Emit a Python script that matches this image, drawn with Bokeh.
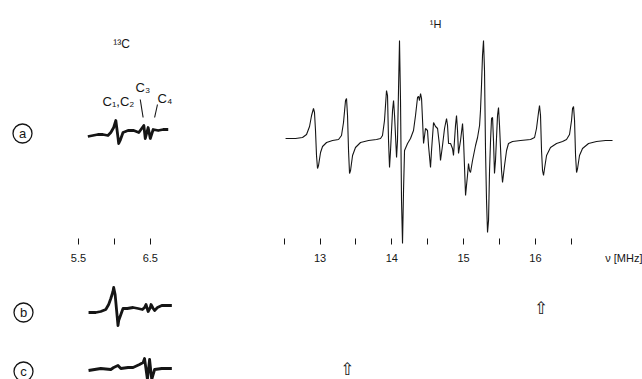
import numpy as np
from bokeh.plotting import figure
from bokeh.layouts import column
from bokeh.models import Range1d, FixedTicker, Label, LinearAxis
from bokeh.core.properties import value
from bokeh.embed import file_html
from bokeh.resources import INLINE

# ---------------- data ----------------
# 1H ENDOR spectrum, trace (a): frequency [MHz] and derivative amplitude (arb. units)
h_freq = [12.520, 12.659, 12.756, 12.812, 12.854, 12.882, 12.909, 12.923, 12.937, 12.951,
          12.965, 12.979, 13.007, 13.035, 13.091, 13.174, 13.258, 13.299, 13.327, 13.355,
          13.369, 13.383, 13.397, 13.411, 13.425, 13.453, 13.494, 13.564, 13.676, 13.787,
          13.843, 13.870, 13.898, 13.926, 13.940, 13.954, 13.968, 13.982, 14.010, 14.024,
          14.038, 14.066, 14.079, 14.093, 14.107, 14.121, 14.135, 14.149, 14.163, 14.177,
          14.219, 14.260, 14.302, 14.330, 14.358, 14.372, 14.386, 14.400, 14.414, 14.428,
          14.442, 14.469, 14.497, 14.511, 14.539, 14.553, 14.581, 14.609, 14.637, 14.664,
          14.678, 14.706, 14.734, 14.762, 14.776, 14.790, 14.818, 14.845, 14.859, 14.887,
          14.901, 14.915, 14.929, 14.957, 14.985, 14.999, 15.027, 15.040, 15.054, 15.068,
          15.082, 15.096, 15.124, 15.166, 15.194, 15.222, 15.235, 15.249, 15.263, 15.277,
          15.291, 15.305, 15.319, 15.333, 15.347, 15.361, 15.375, 15.389, 15.403, 15.416,
          15.430, 15.444, 15.472, 15.486, 15.500, 15.528, 15.542, 15.570, 15.598, 15.625,
          15.681, 15.793, 15.932, 15.988, 16.015, 16.043, 16.057, 16.071, 16.085, 16.099,
          16.113, 16.127, 16.155, 16.210, 16.294, 16.378, 16.433, 16.475, 16.503, 16.517,
          16.531, 16.545, 16.559, 16.573, 16.587, 16.614, 16.656, 16.740, 16.851, 16.977,
          17.074]
h_amp = [0, 0, 1, 4, 12, 23, 30, 26, 8, -17,
         -30, -27, -14, -8, -4, -2, -1, 3, 16, 38,
         40, 23, -12, -35, -32, -17, -9, -4, -2, -1,
         0, 3, 18, 48, 43, -2, -29, -12, 28, 38,
         23, -19, -2, 48, 98, 38, -62, -105, -52, -12,
         -5, 0, 8, 23, 41, 42, 38, 45, 40, 18,
         -5, 10, 8, -7, -29, -12, 16, 12, 10, -7,
         -22, -7, 10, 20, 13, -5, -5, -10, -17, 13,
         23, 8, -15, -2, 15, -2, -57, -47, -37, -25,
         -32, -34, -22, -7, 1, 13, 28, 53, 83, 98,
         68, -12, -62, -94, -82, -32, -2, 20, 21, -2,
         -35, -22, 23, 31, 13, -32, -44, -27, -12, -5,
         -3, -2, -1, 1, 10, 26, 33, 23, -12, -32,
         -37, -30, -17, -9, -5, -3, -1, 4, 18, 30,
         32, 18, -17, -34, -30, -17, -10, -5, -3, -2,
         -2]

# 13C ENDOR spectra (a), (b), (c): frequency [MHz], amplitude (arb. units)
c13a_freq = [5.63, 5.70, 5.77, 5.84, 5.91, 5.95, 5.99, 6.02, 6.05, 6.06, 6.08, 6.12,
             6.19, 6.27, 6.34, 6.39, 6.41, 6.43, 6.47, 6.50, 6.54, 6.61, 6.68, 6.75]
c13a_amp = [-3, -2, -1, -1, -2, 1, 6, 13, -4, -10, -7, 1,
            3, 3, 1, 6, 8, -5, 6, -5, 4, 3, 4, 4]

c13b_freq = [5.64, 5.74, 5.81, 5.88, 5.92, 5.95, 5.98, 5.99, 6.01, 6.04, 6.05, 6.06,
             6.09, 6.12, 6.18, 6.26, 6.33, 6.39, 6.42, 6.44, 6.47, 6.50, 6.51, 6.54,
             6.56, 6.60, 6.66, 6.73, 6.80]
c13b_amp = [-3, -3, -2, 0, 5, 11, 18, 22, 15, -8, -16, -11,
            -5, 1, 1, 2, 1, 0, 2, 5, -2, 2, 5, 1,
            -1, 2, 4, 4, 4]

c13c_freq = [5.64, 5.81, 5.95, 5.99, 6.05, 6.09, 6.19, 6.26, 6.35, 6.40, 6.42, 6.46,
             6.49, 6.52, 6.56, 6.66, 6.80]
c13c_amp = [-2, 0, -1, 1, 3, 0, 1, 1, 4, 6, 10, -11,
            9, -11, -1, 0, 0]

# axis ticks
c13_ticks = [5.5, 6.0, 6.5]
c13_tick_labels = ["5.5", "", "6.5"]
h_ticks = [12.5, 13.0, 13.5, 14.0, 14.5, 15.0, 15.5, 16.0, 16.5]
h_tick_labels = ["", "13", "", "14", "", "15", "", "16", ""]
axis_title = "\u03bd [MHz]"

# 13C line assignments (label, frequency of the pointer line)
c_assign = ["C\u2083", "C\u2084"]
c_assign_freq = [6.40, 6.56]

# pumped 1H frequencies in spectra (b) and (c)
pump_b = 16.08
pump_c = 13.38

# ---------------- layout ----------------
C13_OFFSET = 4.136          # shift of the 13C block on the broken frequency axis
TITLE_POS = 17.240          # where the axis title sits on the frequency scale
XR = Range1d(8.661, 17.380)
INK = "#151515"
FONT = "Liberation Sans"

tick_pos = [t + C13_OFFSET for t in c13_ticks] + h_ticks
tick_lab = c13_tick_labels + h_tick_labels

p1 = figure(frame_width=626, frame_height=236, x_range=XR, y_range=Range1d(-106, 130),
            output_backend="svg", toolbar_location=None, y_axis_location=None,
            min_border_left=8, min_border_top=8, min_border_right=8,
            min_border_bottom=4, outline_line_color=None,
            background_fill_color="white", border_fill_color="white")
p1.grid.visible = False
ax = p1.xaxis[0]
ax.ticker = FixedTicker(ticks=tick_pos)
ax.major_label_overrides = {t: "" for t in tick_pos}
ax.major_label_text_font_size = "1px"
ax.major_label_standoff = 0
ax.axis_line_color = None
ax.major_tick_in = 6
ax.major_tick_out = 0
ax.major_tick_line_color = INK
ax.minor_tick_line_color = None

# spectra (a)
p1.line(h_freq, h_amp, line_width=1.1, color=INK)
p1.line(np.array(c13a_freq) + C13_OFFSET, np.array(c13a_amp) + 5, line_width=2.8,
        color=INK, line_join="round")

# nucleus labels
p1.add_layout(Label(x=14.609, y=115, text="\u00b9H", text_align="center",
                    text_baseline="middle", text_font=FONT, text_font_size="11px",
                    text_color=INK))
p1.add_layout(Label(x=10.235, y=95, text="\u00b9\u00b3C", text_align="center",
                    text_baseline="middle", text_font=FONT, text_font_size="12px",
                    text_color=INK))
p1.add_layout(Label(x=9.971, y=37, text="C\u2081,C\u2082", text_align="left",
                    text_baseline="alphabetic", text_font=FONT, text_font_size="13px",
                    text_color=INK))
p1.add_layout(Label(x=10.430, y=51, text=c_assign[0], text_align="left",
                    text_baseline="alphabetic", text_font=FONT, text_font_size="13px",
                    text_color=INK))
p1.add_layout(Label(x=10.737, y=40, text=c_assign[1], text_align="left",
                    text_baseline="alphabetic", text_font=FONT, text_font_size="13px",
                    text_color=INK))
cf = np.array(c_assign_freq) + C13_OFFSET
p1.segment(x0=cf + np.array([-0.04, 0.04]), y0=[39, 34], x1=cf, y1=[21, 21],
           line_width=1.1, color=INK)

# circled trace letters
def circled(p, x, y, letter):
    p.scatter(x=[x], y=[y], marker="circle", size=19, fill_color=None,
              line_color=INK, line_width=1.3)
    p.text(x=[x], y=[y], text=[letter], text_align="center", text_baseline="middle",
           text_font=value(FONT), text_font_size="13px", text_color=INK)

circled(p1, 8.856, 5, "a")

p2 = figure(frame_width=626, frame_height=112, x_range=XR, y_range=Range1d(-72, 40),
            output_backend="svg", toolbar_location=None, x_axis_location=None,
            y_axis_location=None, min_border_left=8, min_border_top=0,
            min_border_right=8, min_border_bottom=0, outline_line_color=None,
            background_fill_color="white", border_fill_color="white")
p2.grid.visible = False

# frequency labels (numbers and axis title) on an axis shared with the tick row above
lab_pos = [t for t, l in zip(tick_pos, tick_lab) if l] + [TITLE_POS]
lab_txt = [l for l in tick_lab if l] + [axis_title]
ax2 = LinearAxis(ticker=FixedTicker(ticks=lab_pos),
                 major_label_overrides={t: l for t, l in zip(lab_pos, lab_txt)},
                 major_tick_in=0, major_tick_out=0, axis_line_color=None,
                 minor_tick_line_color=None, major_label_standoff=6,
                 major_label_text_font=FONT, major_label_text_font_size="11px",
                 major_label_text_color=INK)
p2.add_layout(ax2, "above")

p2.line(np.array(c13b_freq) + C13_OFFSET, np.array(c13b_amp), line_width=2.8,
        color=INK, line_join="round")
p2.line(np.array(c13c_freq) + C13_OFFSET, np.array(c13c_amp) - 59, line_width=2.8,
        color=INK, line_join="round")
circled(p2, 8.870, -3, "b")
circled(p2, 8.870, -62, "c")

p2.text(x=[pump_b, pump_c], y=[2, -59], text=["\u21e7", "\u21e7"], text_align="center",
        text_baseline="middle", text_font=value("DejaVu Sans"), text_font_size="17px",
        text_color=INK)

layout = column(p1, p2, spacing=0)
open("out.html", "w").write(file_html(layout, INLINE))
